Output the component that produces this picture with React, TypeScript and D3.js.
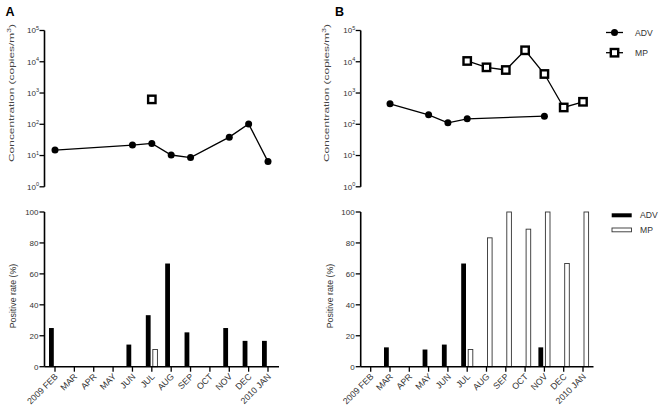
import React from "react";
import * as d3 from "d3";

const months = ["2009 FEB", "MAR", "APR", "MAY", "JUN", "JUL", "AUG", "SEP", "OCT", "NOV", "DEC", "2010 JAN"];

// Panel A concentrations (copies/m3)
const concA_ADV: (number | null)[] = [15, null, null, null, 21.6, 24.4, 10.4, 8.6, null, 38.8, 103, 6.4];
const concA_MP: (number | null)[] = [null, null, null, null, null, 626, null, null, null, null, null, null];
// Panel B concentrations
const concB_ADV: (number | null)[] = [null, 452, null, 200, 111, 149, null, null, null, 181, null, null];
const concB_MP: (number | null)[] = [null, null, null, null, null, 10600, 6630, 5450, 23300, 4060, 345, 524];

// Positive rate (%)
const rateA_ADV = [25, 0, 0, 0, 14.3, 33.3, 66.7, 22.2, 0, 25, 16.7, 16.7];
const rateA_MP = [0, 0, 0, 0, 0, 11.1, 0, 0, 0, 0, 0, 0];
const rateB_ADV = [0, 12.5, 0, 11.1, 14.3, 66.7, 0, 0, 0, 12.5, 0, 0];
const rateB_MP = [0, 0, 0, 0, 0, 11.1, 83.3, 100, 88.9, 100, 66.7, 100];

const logTicks = [1, 10, 100, 1000, 10000, 100000];
const rateTicks = [0, 20, 40, 60, 80, 100];

const FONT = "'Liberation Sans', Arial, Helvetica, sans-serif";
const TXT = "#333";

type PanelProps = {
  letter: string;
  letterX: number;
  axisX: number;
  first: number;
  last: number;
  end: number;
  labelX: number;
  labelX2: number;
  adv: (number | null)[];
  mp: (number | null)[];
  rAdv: number[];
  rMp: number[];
};

const yLog = d3.scaleLog().domain([1, 100000]).range([186.8, 30.5]);
const yRate = d3.scaleLinear().domain([0, 100]).range([366.7, 212]);

function Panel(p: PanelProps) {
  const x = d3.scalePoint<string>().domain(months).range([p.first, p.last]);
  const advPts = months
    .map((m, i) => ({ m, v: p.adv[i] }))
    .filter((d) => d.v !== null) as { m: string; v: number }[];
  const mpPts = months
    .map((m, i) => ({ m, v: p.mp[i] }))
    .filter((d) => d.v !== null) as { m: string; v: number }[];
  const line = d3
    .line<{ m: string; v: number }>()
    .x((d) => x(d.m) as number)
    .y((d) => yLog(d.v));
  const ax = p.axisX;
  const [y0, y1] = yLog.range();
  const [r0, r1] = yRate.range();
  return (
    <g>
      <text x={p.letterX} y={16} fontSize={12.5} fontWeight="bold" fontFamily={FONT}>
        {p.letter}
      </text>
      {/* top axis */}
      <line x1={ax} x2={ax} y1={y1} y2={y0} stroke="#000" strokeWidth={1.6} />
      {logTicks.map((t, i) => (
        <g key={t}>
          <line x1={ax - 5} x2={ax} y1={yLog(t)} y2={yLog(t)} stroke="#000" strokeWidth={1.3} />
          <text x={ax - 5.5} y={yLog(t) + 2.8} textAnchor="end" fontSize={8} fontFamily={FONT} fill={TXT}>
            <tspan>10</tspan>
            <tspan dy={-3.4} fontSize={5.5}>{String(i)}</tspan>
          </text>
        </g>
      ))}
      <text
        transform={`translate(${p.labelX},93) rotate(-90)`}
        textAnchor="middle"
        fontSize={7.8}
        fontFamily={FONT}
        fill="#444"
        textLength={138}
        lengthAdjust="spacingAndGlyphs"
      >
        <tspan>Concentration (copies/m</tspan>
        <tspan dy={-3} fontSize={5.5}>3</tspan>
        <tspan dy={3}>)</tspan>
      </text>
      {advPts.length > 1 && <path d={line(advPts) || ""} fill="none" stroke="#000" strokeWidth={1.3} />}
      {mpPts.length > 1 && <path d={line(mpPts) || ""} fill="none" stroke="#000" strokeWidth={1.3} />}
      {advPts.map((d) => (
        <circle key={"c" + d.m} cx={x(d.m)} cy={yLog(d.v)} r={3.5} fill="#000" />
      ))}
      {mpPts.map((d) => (
        <rect
          key={"s" + d.m}
          x={(x(d.m) as number) - 3.7}
          y={yLog(d.v) - 3.7}
          width={7.4}
          height={7.4}
          fill="#fff"
          stroke="#000"
          strokeWidth={2.4}
        />
      ))}

      {/* bottom */}
      {months.map((m, i) => {
        const cx = x(m) as number;
        return (
          <g key={"b" + m}>
            {p.rAdv[i] > 0 && (
              <rect x={cx - 6} y={yRate(p.rAdv[i])} width={4.8} height={r0 - yRate(p.rAdv[i])} fill="#000" />
            )}
            {p.rMp[i] > 0 && (
              <rect
                x={cx + 1}
                y={yRate(p.rMp[i])}
                width={4.6}
                height={r0 - yRate(p.rMp[i])}
                fill="#fff"
                stroke="#333"
                strokeWidth={0.9}
              />
            )}
          </g>
        );
      })}
      <line x1={ax} x2={ax} y1={r1} y2={r0} stroke="#000" strokeWidth={1.6} />
      <line x1={ax} x2={p.end} y1={r0} y2={r0} stroke="#000" strokeWidth={1.6} />
      {rateTicks.map((t) => (
        <g key={"rt" + t}>
          <line x1={ax - 5} x2={ax} y1={yRate(t)} y2={yRate(t)} stroke="#000" strokeWidth={1.3} />
          <text x={ax - 6} y={yRate(t) + 2.8} textAnchor="end" fontSize={8} fontFamily={FONT} fill={TXT}>
            {t}
          </text>
        </g>
      ))}
      {months.map((m) => (
        <g key={"xt" + m}>
          <line x1={x(m)} x2={x(m)} y1={r0} y2={r0 + 5} stroke="#000" strokeWidth={1.3} />
          <text
            transform={`translate(${(x(m) as number) + 3.5},${r0 + 10.5}) rotate(-45)`}
            textAnchor="end"
            fontSize={8.8}
            fontFamily={FONT}
            fill={TXT}
          >
            {m}
          </text>
        </g>
      ))}
      <text
        transform={`translate(${p.labelX2},296) rotate(-90)`}
        textAnchor="middle"
        fontSize={8.8}
        fontFamily={FONT}
        fill={TXT}
      >
        Positive rate (%)
      </text>
    </g>
  );
}

export default function App() {
  return (
    <svg
      width={662}
      height={414}
      style={{ position: "absolute", left: 0, top: 0, background: "#fff" }}
    >
      <rect width={662} height={414} fill="#fff" />
      <Panel
        letter="A"
        letterX={5.5}
        axisX={44.5}
        first={55}
        last={268}
        end={279}
        labelX={13.5}
        labelX2={16}
        adv={concA_ADV}
        mp={concA_MP}
        rAdv={rateA_ADV}
        rMp={rateA_MP}
      />
      <Panel
        letter="B"
        letterX={335}
        axisX={360.7}
        first={370.7}
        last={583}
        end={593.5}
        labelX={328.5}
        labelX2={333}
        adv={concB_ADV}
        mp={concB_MP}
        rAdv={rateB_ADV}
        rMp={rateB_MP}
      />
      {/* top legend */}
      <g fontFamily={FONT} fontSize={8.6} fill={TXT}>
        <line x1={606} x2={623} y1={32.5} y2={32.5} stroke="#000" strokeWidth={1.3} />
        <circle cx={614.5} cy={32.5} r={3.5} fill="#000" />
        <text x={635} y={35.6}>ADV</text>
        <line x1={606} x2={623} y1={52.7} y2={52.7} stroke="#000" strokeWidth={1.3} />
        <rect x={610.8} y={49} width={7.4} height={7.4} fill="#fff" stroke="#000" strokeWidth={2.4} />
        <text x={635} y={55.8}>MP</text>
        {/* bottom legend */}
        <rect x={611.7} y={213.3} width={20} height={4} fill="#000" />
        <text x={640} y={218.4}>ADV</text>
        <rect x={612} y={228} width={19.5} height={3.8} fill="#fff" stroke="#333" strokeWidth={0.9} />
        <text x={640} y={233}>MP</text>
      </g>
    </svg>
  );
}
